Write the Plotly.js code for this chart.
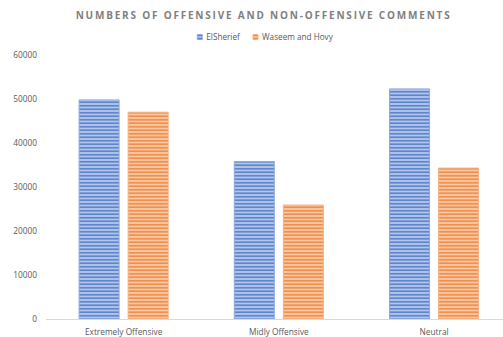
<!DOCTYPE html>
<html><head><meta charset="utf-8">
<script src="https://cdn.plot.ly/plotly-3.0.1.min.js"></script>
<style>body{margin:0;padding:0;background:#fff}#c{width:503px;height:337px}
.gtitle{letter-spacing:1.8px}</style>
</head><body><div id="c"></div>
<script>
const categories = ["Extremely Offensive", "Midly Offensive", "Neutral"];
const elSherief = [49800, 35800, 52300];
const waseemHovy = [47000, 25900, 34300];
const seriesNames = ["ElSherief", "Waseem and Hovy"];
const yTicks = [0, 10000, 20000, 30000, 40000, 50000, 60000];

const txt = '#595959';
const data = [
  {type:'bar', x:categories, y:elSherief, name:seriesNames[0],
   marker:{color:'#b3c5ea', line:{color:'#8eaadd', width:1},
     pattern:{shape:'-', fgcolor:'#4a76c6', bgcolor:'#b3c5ea', size:3.5, solidity:0.4, fillmode:'replace'}}},
  {type:'bar', x:categories, y:waseemHovy, name:seriesNames[1],
   marker:{color:'#f8c9a3', line:{color:'#f4b183', width:1},
     pattern:{shape:'-', fgcolor:'#ee8038', bgcolor:'#f8c9a3', size:3.5, solidity:0.4, fillmode:'replace'}}}
];
const layout = {
  width:503, height:337,
  margin:{l:46, r:0, t:55, b:18},
  paper_bgcolor:'#fff', plot_bgcolor:'#fff',
  barmode:'group', bargap:0.368, bargroupgap:0.184,
  title:{text:'NUMBERS OF OFFENSIVE AND NON-OFFENSIVE COMMENTS', x:0.524, xanchor:'center', y:0.955, yanchor:'middle',
    font:{family:'Open Sans', size:10, color:'#7f7f7f', weight:'bold'}},
  showlegend:true,
  legend:{orientation:'h', x:0.5, xanchor:'center', y:1.068, yanchor:'middle',
    font:{family:'Open Sans', size:8.2, color:txt}, itemwidth:30, traceorder:'normal'},
  xaxis:{type:'category', range:[-0.5, 2.444], showline:true, linecolor:'#d9d9d9', linewidth:1,
    ticks:'', showgrid:false, zeroline:false, ticklabelstandoff:5,
    tickfont:{family:'Open Sans', size:8.3, color:txt}},
  yaxis:{range:[0, 60000], tickvals:yTicks, ticktext:yTicks.map(String), showgrid:false, zeroline:false,
    showline:false, ticks:'', ticklabelstandoff:8,
    tickfont:{family:'Open Sans', size:8.3, color:txt}}
};
Plotly.newPlot('c', data, layout, {displayModeBar:false, staticPlot:true}).then(function(gd){
  // compact legend: small square swatches right before labels, tight spacing
  const items = gd.querySelectorAll('.legend .traces');
  items.forEach(function(g){
    const p = g.querySelector('.legendpoints path');
    if (p) { p.setAttribute('d', 'M2.5,2.5H-2.5V-2.5H2.5Z'); p.setAttribute('transform', 'translate(33.5,0)'); }
  });
  if (items.length === 2) {
    const m1 = /translate\(([-\d.]+)[ ,]+([-\d.]+)\)/.exec(items[0].getAttribute('transform'));
    const m2 = /translate\(([-\d.]+)[ ,]+([-\d.]+)\)/.exec(items[1].getAttribute('transform'));
    const w1 = items[0].querySelector('.legendtext').getBBox().width;
    const x2 = parseFloat(m1[1]) + 21 + w1;
    items[1].setAttribute('transform', 'translate(' + x2 + ',' + m2[2] + ')');
    // center visible legend content at x = 265.5
    const r1 = items[0].querySelector('.legendpoints path').getBoundingClientRect();
    const r2 = items[1].querySelector('.legendtext').getBoundingClientRect();
    const mid = (r1.left + r2.right) / 2;
    const dx = 265.5 - mid;
    const scroll = gd.querySelector('.legend .scrollbox');
    const host = scroll || items[0].parentNode;
    const prev = host.getAttribute('transform') || '';
    host.setAttribute('transform', 'translate(' + dx + ',0) ' + prev);
  }
});
</script></body></html>
